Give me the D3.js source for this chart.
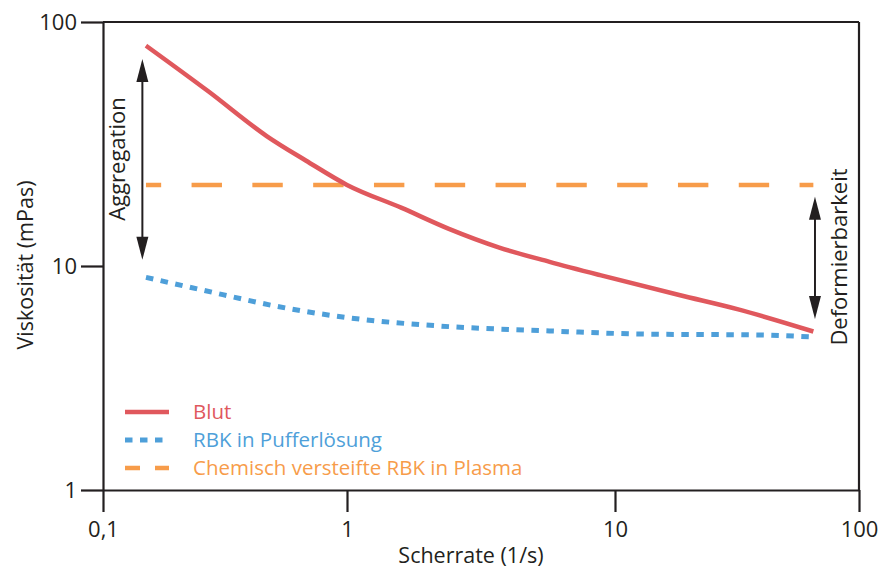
<!DOCTYPE html>
<html>
<head>
<meta charset="utf-8">
<script src="https://cdn.jsdelivr.net/npm/d3@7"></script>
<style>
  html, body { margin: 0; padding: 0; background: #fff; }
  svg text { font-family: "Open Sans", "Noto Sans", sans-serif; fill: #231f20; }
</style>
</head>
<body>
<svg id="chart" width="880" height="570"></svg>
<script>
// Shear rate (1/s) and viscosity (mPas)
const blutRate = [0.15, 0.27, 0.47, 0.68, 1.0, 1.6, 2.4, 3.7, 5.7, 8.8, 18.5, 32, 65];
const blutVisc = [80, 52, 34, 27, 21.5, 17.3, 14.2, 11.9, 10.4, 9.1, 7.4, 6.4, 5.1];

const pufferRate = [0.15, 0.25, 0.58, 1.03, 2.2, 5.7, 12.7, 39, 65];
const pufferVisc = [8.9, 7.85, 6.45, 5.86, 5.4, 5.13, 4.97, 4.92, 4.82];

const plasmaRate = [0.15, 65];
const plasmaVisc = [21.5, 21.5];

const xTicks = [0.1, 1, 10, 100];
const xTickLabels = ["0,1", "1", "10", "100"];
const yTicks = [1, 10, 100];
const yTickLabels = ["1", "10", "100"];

const seriesNames = ["Blut", "RBK in Pufferlösung", "Chemisch versteifte RBK in Plasma"];
const seriesColors = ["#e0585d", "#4e9fd9", "#f79c4a"];

// Annotation arrows: [rate, viscosity from, viscosity to]
const aggregationArrow = [0.145, 70.5, 10.6];
const deformArrow = [66, 19.2, 5.8];

const svg = d3.select("#chart");
const ink = "#231f20";

// log axes, one segment per decade
const x = d3.scaleLog().domain([0.1, 1, 10, 100]).range([103, 347, 615, 859]);
const y = d3.scaleLog().domain([1, 10, 100]).range([490, 266, 22]);

// frame: top and right edges
svg.append("line").attr("x1", x(0.1)).attr("x2", x(100)).attr("y1", y(100)).attr("y2", y(100))
  .attr("stroke", ink).attr("stroke-width", 2.2);
svg.append("line").attr("x1", x(100)).attr("x2", x(100)).attr("y1", y(100)).attr("y2", y(1))
  .attr("stroke", ink).attr("stroke-width", 2.2);

// axes
const xAxis = d3.axisBottom(x).tickValues(xTicks).tickSize(22).tickSizeOuter(0)
  .tickFormat((d, i) => xTickLabels[i]);
const yAxis = d3.axisLeft(y).tickValues(yTicks).tickSize(22).tickSizeOuter(0)
  .tickFormat((d, i) => yTickLabels[i]);

const gx = svg.append("g").attr("transform", `translate(0,${y(1)})`).call(xAxis);
const gy = svg.append("g").attr("transform", `translate(${x(0.1)},0)`).call(yAxis);

[gx, gy].forEach(g => {
  g.select(".domain").attr("stroke", ink).attr("stroke-width", 2.2);
  g.selectAll(".tick line").attr("stroke", ink).attr("stroke-width", 2.2);
  g.selectAll(".tick text").attr("fill", ink).style("font-size", "22px")
    .style("font-family", '"Open Sans", sans-serif');
});
gx.selectAll(".tick text").attr("y", 0).attr("dy", 0).attr("transform", "translate(0,47)");
gy.selectAll(".tick text").attr("x", -26).attr("dy", "0.35em");

// axis titles
svg.append("text").attr("x", 471).attr("y", 563).attr("text-anchor", "middle")
  .style("font-size", "21.5px").text("Scherrate (1/s)");
svg.append("text").attr("transform", "translate(33,265) rotate(-90)").attr("text-anchor", "middle")
  .style("font-size", "21.5px").text("Viskosität (mPas)");

// curves
const line = d3.line().x(d => x(d[0])).y(d => y(d[1])).curve(d3.curveMonotoneX);
const zip = (a, b) => a.map((v, i) => [v, b[i]]);

svg.append("path").datum(zip(plasmaRate, plasmaVisc)).attr("d", line)
  .attr("fill", "none").attr("stroke", seriesColors[2]).attr("stroke-width", 4.5)
  .attr("stroke-dasharray", "30.4 30.4").attr("stroke-dashoffset", 15.2);

svg.append("path").datum(zip(pufferRate, pufferVisc)).attr("d", line)
  .attr("fill", "none").attr("stroke", seriesColors[1]).attr("stroke-width", 5)
  .attr("stroke-dasharray", "7.5 7.5");

svg.append("path").datum(zip(blutRate, blutVisc)).attr("d", line)
  .attr("fill", "none").attr("stroke", seriesColors[0]).attr("stroke-width", 4.5);

// double-headed arrows
function arrow(a) {
  const ax = x(a[0]), y1 = y(a[1]), y2 = y(a[2]);
  const head = 23, half = 6;
  svg.append("line").attr("x1", ax).attr("x2", ax).attr("y1", y1 + head - 2).attr("y2", y2 - head + 2)
    .attr("stroke", ink).attr("stroke-width", 2);
  svg.append("path").attr("fill", ink)
    .attr("d", `M${ax},${y1} L${ax + half},${y1 + head} L${ax - half},${y1 + head} Z`);
  svg.append("path").attr("fill", ink)
    .attr("d", `M${ax},${y2} L${ax + half},${y2 - head} L${ax - half},${y2 - head} Z`);
}
arrow(aggregationArrow);
arrow(deformArrow);

svg.append("text").attr("transform", "translate(125,159) rotate(-90)").attr("text-anchor", "middle")
  .style("font-size", "22px").text("Aggregation");
svg.append("text").attr("transform", "translate(847,257) rotate(-90)").attr("text-anchor", "middle")
  .style("font-size", "22px").text("Deformierbarkeit");

// legend
const legendStyles = [
  { width: 4.5, dash: null },
  { width: 5, dash: "7.5 7.5" },
  { width: 4.5, dash: "15 15" }
];
const legendY = [412, 440, 468];
const legend = svg.append("g");
seriesNames.forEach((name, i) => {
  legend.append("line").attr("x1", 125).attr("x2", 169).attr("y1", legendY[i]).attr("y2", legendY[i])
    .attr("stroke", seriesColors[i]).attr("stroke-width", legendStyles[i].width)
    .attr("stroke-dasharray", legendStyles[i].dash);
  legend.append("text").attr("x", 193).attr("y", legendY[i] + 7)
    .style("font-size", "20.5px").style("fill", seriesColors[i]).text(name);
});
</script>
</body>
</html>
